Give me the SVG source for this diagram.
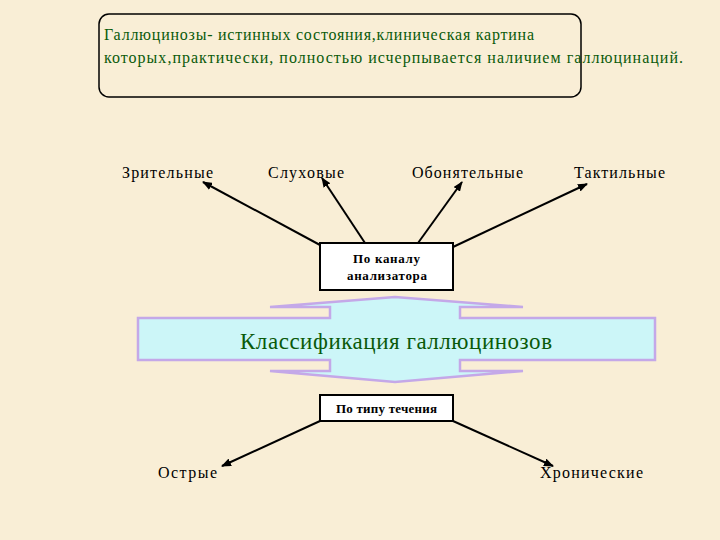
<svg xmlns="http://www.w3.org/2000/svg" width="720" height="540" viewBox="0 0 720 540">
<style>
.t{font-family:"Liberation Serif","DejaVu Serif",serif;font-size:16px;fill:#000}
.g{font-family:"Liberation Serif","DejaVu Serif",serif;fill:#0a5a0a}
.b{font-family:"Liberation Serif","DejaVu Serif",serif;font-size:13px;font-weight:bold;fill:#000}
.ln{stroke:#000;stroke-width:2;fill:none;marker-end:url(#ah)}
</style>
<defs><marker id="ah" markerWidth="10" markerHeight="8" refX="9" refY="4" orient="auto" markerUnits="userSpaceOnUse"><path d="M0,0 L10,4 L0,8 z" fill="#000"/></marker></defs>
<rect width="720" height="540" fill="#f9eed6"/>
<g id="top"><rect x="99" y="14" width="482" height="83" rx="10" fill="none" stroke="#000" stroke-width="1.5"/>
<text class="g" font-size="16" x="104" y="40" textLength="430">Галлюцинозы- истинных состояния,клиническая картина</text>
<text class="g" font-size="16" x="104" y="63" textLength="579">которых,практически, полностью исчерпывается наличием галлюцинаций.</text></g>
<g id="connectors">
<line class="ln" x1="320" y1="245" x2="203" y2="182"/>
<line class="ln" x1="365" y1="243" x2="322" y2="178"/>
<line class="ln" x1="418" y1="243" x2="462" y2="182"/>
<line class="ln" x1="453" y1="247" x2="587" y2="184"/>
<line class="ln" x1="320" y1="421" x2="222" y2="466"/>
<line class="ln" x1="453" y1="421" x2="553" y2="466"/>
</g>
<g id="n1"><text class="t" x="122" y="178" textLength="91">Зрительные</text></g>
<g id="n2"><text class="t" x="268" y="178" textLength="76">Слуховые</text></g>
<g id="n3"><text class="t" x="412" y="178" textLength="111">Обонятельные</text></g>
<g id="n4"><text class="t" x="574" y="178" textLength="91">Тактильные</text></g>
<g id="channel"><rect x="320" y="243" width="133" height="47" fill="#fff" stroke="#000" stroke-width="2"/>
<text class="b" x="353" y="263" textLength="67">По каналу</text><text class="b" x="347" y="280" textLength="80">анализатора</text></g>
<g id="classif">
<path d="M138,318 H330 V307 H270 L395,297 L523,307 H460 V318 H655 V360 H460 V371 H523 L395,382 L270,371 H330 V360 H138 Z" fill="#ccf6f8" stroke="#c4a8e8" stroke-width="2.5"/>
<text class="g" font-size="23" x="240" y="349" textLength="312">Классификация галлюцинозов</text></g>
<g id="course"><rect x="320" y="395" width="133" height="26" fill="#fff" stroke="#000" stroke-width="2"/>
<text class="b" x="336" y="413" textLength="101">По типу течения</text></g>
<g id="n5"><text class="t" x="158" y="478" textLength="59">Острые</text></g>
<g id="n6"><text class="t" x="540" y="478" textLength="103">Хронические</text></g>
</svg>
